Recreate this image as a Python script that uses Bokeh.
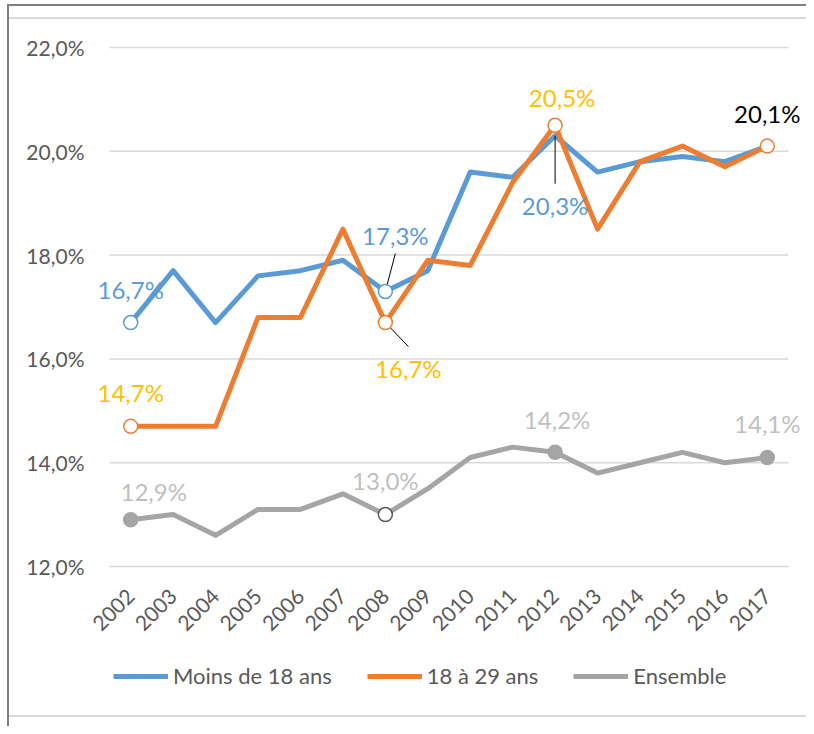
import math
from bokeh.plotting import figure
from bokeh.layouts import column
from bokeh.models import Range1d, FixedTicker, Legend, LegendItem, Label
from bokeh.embed import file_html
from bokeh.resources import INLINE

years = [str(y) for y in range(2002, 2018)]
moins18 = [16.7, 17.7, 16.7, 17.6, 17.7, 17.9, 17.3, 17.7, 19.6, 19.5, 20.3, 19.6, 19.8, 19.9, 19.8, 20.1]
age18_29 = [14.7, 14.7, 14.7, 16.8, 16.8, 18.5, 16.7, 17.9, 17.8, 19.4, 20.5, 18.5, 19.8, 20.1, 19.7, 20.1]
ensemble = [12.9, 13.0, 12.6, 13.1, 13.1, 13.4, 13.0, 13.5, 14.1, 14.3, 14.2, 13.8, 14.0, 14.2, 14.0, 14.1]
y_ticks = [12, 14, 16, 18, 20, 22]
y_tick_labels = ["12,0%", "14,0%", "16,0%", "18,0%", "20,0%", "22,0%"]
series_names = ["Moins de 18 ans", "18 à 29 ans", "Ensemble"]

BLUE = "#5B9BD5"
ORANGE = "#ED7D31"
GRAY = "#A5A5A5"
GOLD = "#FFC000"
LGRAY = "#BFBFBF"
TICK = "#595959"
FONT = "Lato"

W = 806
H1 = 640          # main chart height
H2 = 86           # legend strip height
PX_X = 679 / 16.0  # px per category
PX_Y = 52.0        # px per percentage point
FL, FR, FT, FB = 95, 806, 44, 570   # frame edges (px)

x0 = -0.5 - (109 - FL) / PX_X
x1 = 15.5 + (FR - 788) / PX_X
y0 = 12 - (FB - 567) / PX_Y
y1 = 22 + (47 - FT) / PX_Y

p = figure(width=W, height=H1, output_backend="svg", toolbar_location=None,
           x_range=Range1d(x0, x1), y_range=Range1d(y0, y1),
           min_border_left=FL, min_border_right=W - FR, min_border_top=FT, min_border_bottom=H1 - FB)
p.outline_line_color = None
p.background_fill_color = "white"
p.border_fill_alpha = 0

xs = list(range(len(years)))

# gridlines restricted to the category span
p.xgrid.grid_line_color = None
p.ygrid.grid_line_color = None
p.segment(x0=[-0.5] * len(y_ticks), y0=y_ticks, x1=[15.5] * len(y_ticks), y1=y_ticks,
          line_color="#D9D9D9", line_width=1.5)

p.yaxis.ticker = FixedTicker(ticks=y_ticks)
p.yaxis.major_label_overrides = {t: l for t, l in zip(y_ticks, y_tick_labels)}
p.yaxis.axis_line_color = None
p.yaxis.major_tick_line_color = None
p.yaxis.minor_tick_line_color = None
p.yaxis.major_label_standoff = 5
p.yaxis.major_label_text_font = FONT
p.yaxis.major_label_text_font_size = "21px"
p.yaxis.major_label_text_color = TICK

p.xaxis.ticker = FixedTicker(ticks=xs)
p.xaxis.major_label_overrides = {i: y for i, y in zip(xs, years)}
p.xaxis.axis_line_color = None
p.xaxis.major_tick_line_color = None
p.xaxis.minor_tick_line_color = None
p.xaxis.major_label_orientation = math.pi / 4
p.xaxis.major_label_standoff = 17
p.xaxis.major_label_text_font = FONT
p.xaxis.major_label_text_font_size = "21px"
p.xaxis.major_label_text_color = TICK

# lines
lw = 5
p.line(xs, moins18, line_color=BLUE, line_width=lw, line_join="round")
p.line(xs, age18_29, line_color=ORANGE, line_width=lw, line_join="round")
p.line(xs, ensemble, line_color=GRAY, line_width=lw, line_join="round")

# leader lines: (series, index, dx_px, dy_px) end of leader relative to point, dy positive = down
leaders = [
    (moins18, 6, 10, -38),
    (age18_29, 6, 23, 24),
    (moins18, 10, 0, 48),
]
for ser, i, dx, dy in leaders:
    p.segment(x0=[xs[i]], y0=[ser[i]], x1=[xs[i] + dx / PX_X], y1=[ser[i] - dy / PX_Y],
              line_color="black", line_width=1)

# markers
ms = 14
def marker(ser, idxs, fill, line):
    p.scatter([xs[i] for i in idxs], [ser[i] for i in idxs], size=ms, marker="circle",
              fill_color=fill, line_color=line, line_width=1.5)

marker(moins18, [0, 6], "white", BLUE)
marker(age18_29, [0, 6, 10, 15], "white", ORANGE)
marker(ensemble, [0, 10, 15], GRAY, GRAY)
marker(ensemble, [6], "white", TICK)

# data labels: (series, index, color, dx, dy)  dy in screen px, positive = down
labels = [
    (moins18, 0, BLUE, 0, -33),
    (moins18, 6, BLUE, 10, -56),
    (moins18, 10, BLUE, 0, 70),
    (age18_29, 0, GOLD, 0, -34),
    (age18_29, 6, GOLD, 23, 46),
    (age18_29, 10, GOLD, 7, -28),
    (age18_29, 15, "black", 0, -33),
    (ensemble, 0, LGRAY, 23, -28),
    (ensemble, 6, LGRAY, 0, -34),
    (ensemble, 10, LGRAY, 2, -33),
    (ensemble, 15, LGRAY, 0, -34),
]
for ser, i, col, dx, dy in labels:
    txt = ("%.1f%%" % ser[i]).replace(".", ",")
    p.add_layout(Label(x=xs[i], y=ser[i], text=txt, x_offset=dx, y_offset=-dy,
                       text_align="center", text_baseline="middle", text_color=col,
                       text_font=FONT, text_font_size="24px"))

# legend strip
q = figure(width=W, height=H2, output_backend="svg", toolbar_location=None,
           x_range=Range1d(0, 1), y_range=Range1d(0, 1),
           x_axis_location=None, y_axis_location=None,
           min_border_left=0, min_border_right=0, min_border_top=0, min_border_bottom=0)
q.outline_line_color = None
q.background_fill_alpha = 0
q.border_fill_alpha = 0
q.grid.grid_line_color = None
leg_r = [q.line([-5, -4], [-5, -4], line_color=c, line_width=5) for c in (BLUE, ORANGE, GRAY)]
lg = Legend(items=[LegendItem(label=n, renderers=[r]) for n, r in zip(series_names, leg_r)],
            location=(18, 37), orientation="horizontal", glyph_width=55, glyph_height=24,
            label_height=24, label_standoff=5, spacing=35, padding=0, margin=0,
            border_line_color=None, background_fill_alpha=0, label_text_font=FONT,
            label_text_font_size="22px", label_text_color=TICK, label_text_baseline="middle")
q.add_layout(lg, "center")

page = column(p, q, spacing=0)
page.styles = {
    "background-color": "white",
    "background-image": ("linear-gradient(#7F7F7F,#7F7F7F), linear-gradient(#7F7F7F,#7F7F7F), "
                         "linear-gradient(#D9D9D9,#D9D9D9), linear-gradient(#D9D9D9,#D9D9D9)"),
    "background-size": "2px 100%, 100% 2px, 100% 2px, 100% 2px",
    "background-position": "7px 4px, 7px 4px, 9px 17px, 9px 715px",
    "background-repeat": "no-repeat",
}

open("out.html", "w").write(file_html(page, INLINE))
